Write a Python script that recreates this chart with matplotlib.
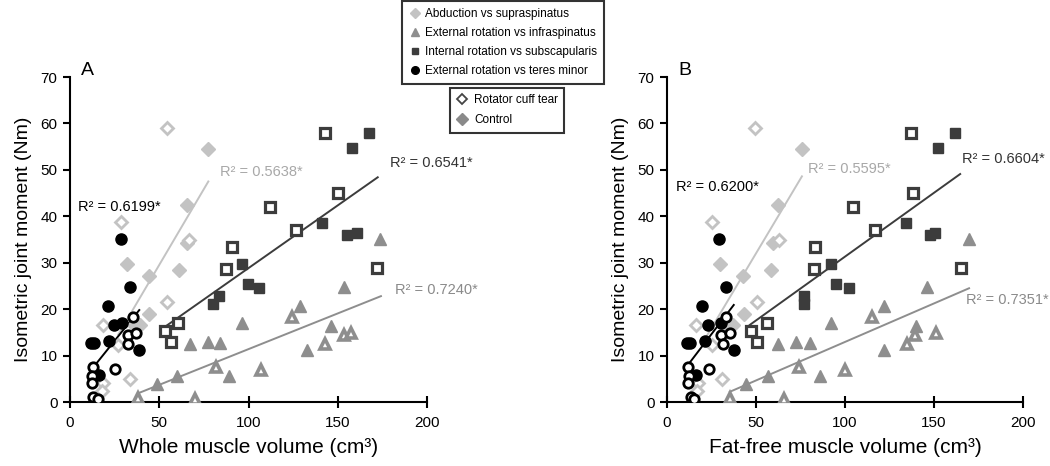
import matplotlib
matplotlib.use("Agg")
import matplotlib.pyplot as plt
from matplotlib.lines import Line2D

plt.rcParams['font.family'] = ['Liberation Sans', 'DejaVu Sans']

# ---------------- data ----------------
# Supraspinatus / abduction
sup_rct_y  = [59.0, 38.8, 21.5, 35.0, 5.0, 16.5, 12.2, 4.0, 2.4]
sup_rct_xA = [54.2, 28.4, 54.5, 66.5, 33.6, 18.3, 27.1, 18.7, 17.8]
sup_rct_xB = [49.7, 25.2, 50.6, 62.9, 30.8, 16.2, 25.0, 17.5, 16.6]
sup_con_y  = [54.5, 42.5, 29.7, 27.2, 28.5, 34.3, 19.0, 16.5, 16.5]
sup_con_xA = [77.5, 65.4, 31.8, 44.4, 61.1, 65.4, 44.4, 39.2, 36.0]
sup_con_xB = [75.8, 62.2, 29.7, 42.7, 58.3, 59.6, 43.1, 37.2, 33.8]

# Infraspinatus / external rotation
inf_rct_y  = [18.4, 14.4, 14.9, 12.4, 7.5, 7.0, 0.9, 0.7]
inf_rct_xA = [124.5, 153.5, 157.4, 142.9, 81.6, 107.0, 38.3, 70.0]
inf_rct_xB = [115.0, 139.5, 151.1, 134.8, 74.0, 100.1, 35.3, 65.5]
inf_con_y  = [35.2, 24.7, 20.7, 17.1, 16.4, 11.1, 12.6, 13.0, 12.7, 5.7, 5.7, 3.9]
inf_con_xA = [173.7, 153.5, 129.0, 96.5, 146.0, 133.0, 67.2, 77.5, 84.0, 88.9, 59.8, 48.6]
inf_con_xB = [169.4, 146.0, 122.1, 92.3, 139.9, 122.1, 62.4, 72.7, 80.1, 85.7, 56.8, 44.6]

# Subscapularis / internal rotation
sub_rct_y  = [58.0, 45.0, 42.0, 37.1, 33.4, 28.6, 28.9, 17.0, 15.2, 12.9]
sub_rct_xA = [142.9, 150.1, 112.2, 126.4, 90.8, 87.4, 172.0, 60.7, 53.2, 56.6]
sub_rct_xB = [137.3, 138.0, 104.4, 116.9, 82.9, 82.4, 165.1, 55.9, 47.4, 50.8]
sub_con_y  = [57.9, 54.7, 38.6, 36.0, 36.3, 29.8, 25.4, 24.5, 22.9, 21.1]
sub_con_xA = [167.5, 158.2, 141.2, 155.0, 161.0, 96.4, 99.9, 106.0, 83.7, 80.3]
sub_con_xB = [161.9, 152.4, 134.3, 147.7, 150.3, 92.3, 94.7, 102.0, 76.9, 76.9]

# Teres minor / external rotation
ter_rct_y  = [7.6, 5.7, 4.1, 1.0, 0.7, 7.1, 18.4, 14.5, 14.9, 12.4]
ter_rct_xA = [13.1, 12.2, 12.5, 13.1, 15.9, 25.2, 35.1, 32.7, 37.0, 32.7]
ter_rct_xB = [11.6, 12.5, 11.9, 13.3, 15.3, 23.7, 33.1, 30.6, 35.3, 31.5]
ter_con_y  = [35.2, 24.7, 20.7, 16.5, 17.1, 12.7, 12.7, 13.1, 11.1, 5.8]
ter_con_xA = [28.7, 33.6, 21.5, 24.8, 29.0, 11.5, 13.5, 22.0, 38.7, 16.4]
ter_con_xB = [29.3, 33.1, 19.8, 23.2, 30.1, 11.0, 12.9, 21.3, 37.5, 16.2]

# regression lines (x start, x end, y start, y end)
fitA_sup = ([27.0, 77.5], [14.5, 47.5])
fitA_inf = ([38.3, 174.2], [1.9, 22.8])
fitA_sub = ([53.2, 172.4], [16.2, 48.4])
fitA_ter = ([13.1, 38.8], [7.5, 19.8])
fitB_sup = ([22.0, 75.8], [14.0, 48.6])
fitB_inf = ([35.3, 169.7], [2.2, 24.5])
fitB_sub = ([46.5, 164.7], [16.6, 49.1])
fitB_ter = ([11.0, 37.5], [7.6, 20.9])

r2A = ["R² = 0.5638*", "R² = 0.7240*", "R² = 0.6541*", "R² = 0.6199*"]
r2B = ["R² = 0.5595*", "R² = 0.7351*", "R² = 0.6604*", "R² = 0.6200*"]
r2A_pos = [(84, 49.6), (182, 24.1), (179.3, 51.4), (4.7, 42.1)]
r2B_pos = [(79.2, 50.1), (167.9, 22.0), (166, 52.3), (5.0, 46.3)]

legend_labels = ["Abduction vs supraspinatus", "External rotation vs infraspinatus",
                 "Internal rotation vs subscapularis", "External rotation vs teres minor"]
group_labels = ["Rotator cuff tear", "Control"]

# ---------------- styles ----------------
C_SUP = '#c3c3c3'
C_INF = '#8e8e8e'
C_SUB = '#3c3c3c'
C_TER = '#000000'
TXT_SUP = '#a8a8a8'
TXT_INF = '#8a8a8a'
TXT_SUB = '#333333'

fig = plt.figure(figsize=(10.5, 4.66), dpi=100)
axA = fig.add_axes([70/1050, (466-402)/466, 357/1050, 325/466])
axB = fig.add_axes([667/1050, (466-402)/466, 356/1050, 325/466])


def draw(ax, xs, fits, r2, r2pos, xlabel, letter):
    (sxr, sxc, ixr, ixc, bxr, bxc, txr, txc) = xs
    for (fx, fy), col in zip(fits, [C_SUP, C_INF, C_SUB, C_TER]):
        ax.plot(fx, fy, color=col, lw=1.4, zorder=2)
    mew = 2.0
    ax.plot(sxc, sup_con_y, 'D', ms=7, color=C_SUP, mec=C_SUP, zorder=3)
    ax.plot(sxr, sup_rct_y, 'D', ms=6.3, mfc='white', mec=C_SUP, mew=mew, zorder=3)
    ax.plot(ixc, inf_con_y, '^', ms=8.5, color=C_INF, mec=C_INF, zorder=3)
    ax.plot(ixr, inf_rct_y, '^', ms=7.5, mfc='white', mec=C_INF, mew=mew + 0.6, zorder=3)
    ax.plot(bxc, sub_con_y, 's', ms=7.5, color=C_SUB, mec=C_SUB, zorder=3)
    ax.plot(bxr, sub_rct_y, 's', ms=6.5, mfc='white', mec=C_SUB, mew=mew + 0.3, zorder=3)
    ax.plot(txc, ter_con_y, 'o', ms=8, color=C_TER, mec=C_TER, zorder=3)
    ax.plot(txr, ter_rct_y, 'o', ms=6.8, mfc='white', mec=C_TER, mew=mew, zorder=3)

    for t, (px, py), col in zip(r2, r2pos, [TXT_SUP, TXT_INF, TXT_SUB, 'black']):
        ax.text(px, py, t, color=col, fontsize=10.5, ha='left', va='center')

    ax.set_xlim(0, 200)
    ax.set_ylim(0, 70)
    ax.set_xticks([0, 50, 100, 150, 200])
    ax.set_yticks(range(0, 71, 10))
    for s in ['top', 'right']:
        ax.spines[s].set_visible(False)
    for s in ['left', 'bottom']:
        ax.spines[s].set_linewidth(1.5)
    ax.tick_params(axis='y', direction='out', length=5, width=1.5, labelsize=11, pad=4)
    ax.tick_params(axis='x', direction='inout', length=8, width=1.5, labelsize=11, pad=6)
    ax.set_xlabel(xlabel, fontsize=15, labelpad=6)
    ax.set_ylabel("Isometric joint moment (Nm)", fontsize=14, labelpad=6)
    ax.text(0.05, 1.02, letter, transform=ax.transAxes, fontsize=14, ha='center', va='center')
    ax.patch.set_alpha(0)


draw(axA, (sup_rct_xA, sup_con_xA, inf_rct_xA, inf_con_xA, sub_rct_xA, sub_con_xA, ter_rct_xA, ter_con_xA),
     [fitA_sup, fitA_inf, fitA_sub, fitA_ter], r2A, r2A_pos, "Whole muscle volume (cm³)", "A")
draw(axB, (sup_rct_xB, sup_con_xB, inf_rct_xB, inf_con_xB, sub_rct_xB, sub_con_xB, ter_rct_xB, ter_con_xB),
     [fitB_sup, fitB_inf, fitB_sub, fitB_ter], r2B, r2B_pos, "Fat-free muscle volume (cm³)", "B")

LEG_FS = 8.5
h1 = [Line2D([], [], ls='none', marker='D', ms=4.8, color=C_SUP),
      Line2D([], [], ls='none', marker='^', ms=5.5, color=C_INF),
      Line2D([], [], ls='none', marker='s', ms=5, color=C_SUB),
      Line2D([], [], ls='none', marker='o', ms=5.5, color=C_TER)]
leg1 = fig.legend(h1, legend_labels, loc='upper left', bbox_to_anchor=(402/1050, 1 - 1/466),
                  frameon=True, fancybox=False, fontsize=LEG_FS, labelspacing=0.58,
                  handlelength=0.95, handletextpad=0.37, borderpad=0.63, borderaxespad=0)
leg1.get_frame().set_edgecolor('black')
leg1.get_frame().set_linewidth(1.5)

h2 = [Line2D([], [], ls='none', marker='D', ms=5, mfc='white', mec='#444444', mew=1.3),
      Line2D([], [], ls='none', marker='D', ms=6, color='#8a8a8a')]
leg2 = fig.legend(h2, group_labels, loc='upper left', bbox_to_anchor=(450/1050, 1 - 88/466),
                  frameon=True, fancybox=False, fontsize=LEG_FS, labelspacing=0.67,
                  handlelength=0.93, handletextpad=0.55, borderpad=0.55, borderaxespad=0)
leg2.get_frame().set_edgecolor('black')
leg2.get_frame().set_linewidth(1.5)

fig.savefig("out.png", dpi=100)
